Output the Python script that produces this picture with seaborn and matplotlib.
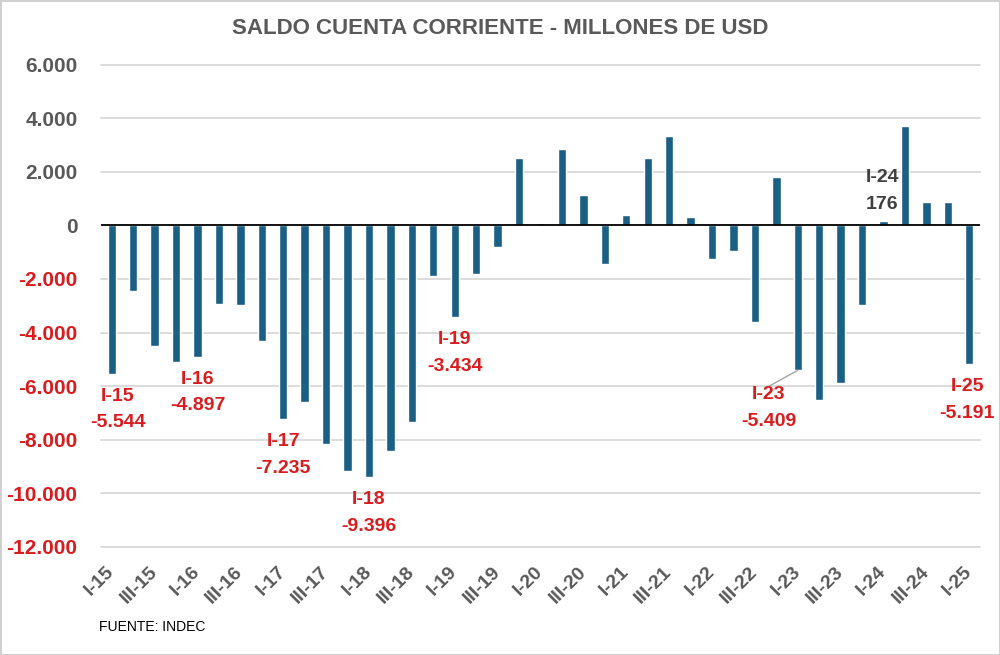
import matplotlib
matplotlib.use("Agg")
import matplotlib.pyplot as plt
import seaborn as sns
import pandas as pd

# ---------------- data ----------------
quarters = [
    "I-15", "II-15", "III-15", "IV-15",
    "I-16", "II-16", "III-16", "IV-16",
    "I-17", "II-17", "III-17", "IV-17",
    "I-18", "II-18", "III-18", "IV-18",
    "I-19", "II-19", "III-19", "IV-19",
    "I-20", "II-20", "III-20", "IV-20",
    "I-21", "II-21", "III-21", "IV-21",
    "I-22", "II-22", "III-22", "IV-22",
    "I-23", "II-23", "III-23", "IV-23",
    "I-24", "II-24", "III-24", "IV-24",
    "I-25",
]
saldo = [
    -5544, -2450, -4510, -5090,
    -4897, -2920, -2980, -4310,
    -7235, -6600, -8140, -9170,
    -9396, -8420, -7350, -1900,
    -3434, -1800, -800, 2530,
    100, 2830, 1130, -1440,
    370, 2510, 3320, 300,
    -1250, -960, -3610, 1800,
    -5409, -6510, -5900, -2960,
    176, 3700, 860, 880,
    -5191,
]
tick_labels = [
    "I-15", "III-15", "I-16", "III-16", "I-17", "III-17", "I-18", "III-18",
    "I-19", "III-19", "I-20", "III-20", "I-21", "III-21", "I-22", "III-22",
    "I-23", "III-23", "I-24", "III-24", "I-25",
]
y_ticks = [-12000, -10000, -8000, -6000, -4000, -2000, 0, 2000, 4000, 6000]
red_labels = ["I-15", "I-16", "I-17", "I-18", "I-19", "I-23", "I-25"]
gray_labels = ["I-24"]

title = "SALDO CUENTA CORRIENTE - MILLONES DE USD"
source = "FUENTE: INDEC"

# ---------------- style ----------------
BAR = "#1b5f84"
RED = "#d91c1f"
GRAY = "#595959"
GRID = "#d9d9d9"

sns.set_theme(style="white")
plt.rcParams["font.family"] = ["Liberation Sans", "DejaVu Sans"]


def fmt(v):
    return f"{v:,}".replace(",", ".")


df = pd.DataFrame({"trimestre": quarters, "saldo": saldo})

fig = plt.figure(figsize=(10, 6.55), dpi=100)
fig.patch.set_facecolor("white")
fig.patch.set_edgecolor("#d0d0d0")
fig.patch.set_linewidth(2)
ax = fig.add_axes([0.101, 0.1649, 0.879, 0.7366])

sns.barplot(data=df, x="trimestre", y="saldo", color=BAR, saturation=1,
            width=0.39, errorbar=None, ax=ax, zorder=3)

ax.set_ylim(-12000, 6000)
ax.set_xlim(-0.5, len(quarters) - 0.5)
ax.set_yticks(y_ticks)
ax.set_yticklabels([fmt(v) for v in y_ticks])
for lab, v in zip(ax.get_yticklabels(), y_ticks):
    lab.set_color(RED if v < 0 else GRAY)
    lab.set_fontweight("bold")
    lab.set_fontsize(15)

pos = {q: i for i, q in enumerate(quarters)}
ax.set_xticks([pos[t] for t in tick_labels])
ax.set_xticklabels(tick_labels, rotation=45, ha="right", va="center",
                   rotation_mode="anchor", fontsize=14, fontweight="bold",
                   color=GRAY)
ax.tick_params(axis="x", length=0, pad=16)
ax.tick_params(axis="y", length=0, pad=17)

for v in y_ticks:
    if v != 0:
        ax.axhline(v, color=GRID, lw=1.3, zorder=1, clip_on=False)
ax.axhline(0, color="black", lw=1.3, zorder=4)

for s in ax.spines.values():
    s.set_visible(False)
ax.set_xlabel("")
ax.set_ylabel("")

# annotations
offsets = {"I-15": (6, -14), "I-16": (0, -14), "I-17": (0, -14), "I-18": (0, -14),
           "I-19": (0, -14), "I-23": (-29, -16), "I-25": (-2, -14)}
for q in red_labels:
    i = pos[q]
    v = saldo[i]
    dx, dy = offsets[q]
    kw = {}
    if q == "I-23":
        kw["arrowprops"] = dict(arrowstyle="-", color="#a6a6a6", lw=1,
                                shrinkA=0, shrinkB=0, relpos=(0.5, 1.0),
                                patchA=None)
    ax.annotate(f"{q}\n{fmt(v)}", xy=(i, v), xytext=(dx, dy),
                textcoords="offset pixels", ha="center", va="top",
                color=RED, fontsize=14, fontweight="bold", linespacing=1.72,
                zorder=5, **kw)
for q in gray_labels:
    i = pos[q]
    v = saldo[i]
    ax.annotate(f"{q}\n{fmt(v)}", xy=(i, v), xytext=(-1, 8),
                textcoords="offset pixels", ha="center", va="bottom",
                color="#404040", fontsize=14, fontweight="bold",
                linespacing=1.72, zorder=5)

fig.text(0.5, 0.957, title, ha="center", va="center", fontsize=16,
         fontweight="bold", color=GRAY)
fig.text(0.099, 0.043, source, ha="left", va="center", fontsize=10,
         color="black")

fig.savefig("out.png", dpi=100, facecolor="white",
            edgecolor=fig.get_edgecolor())
